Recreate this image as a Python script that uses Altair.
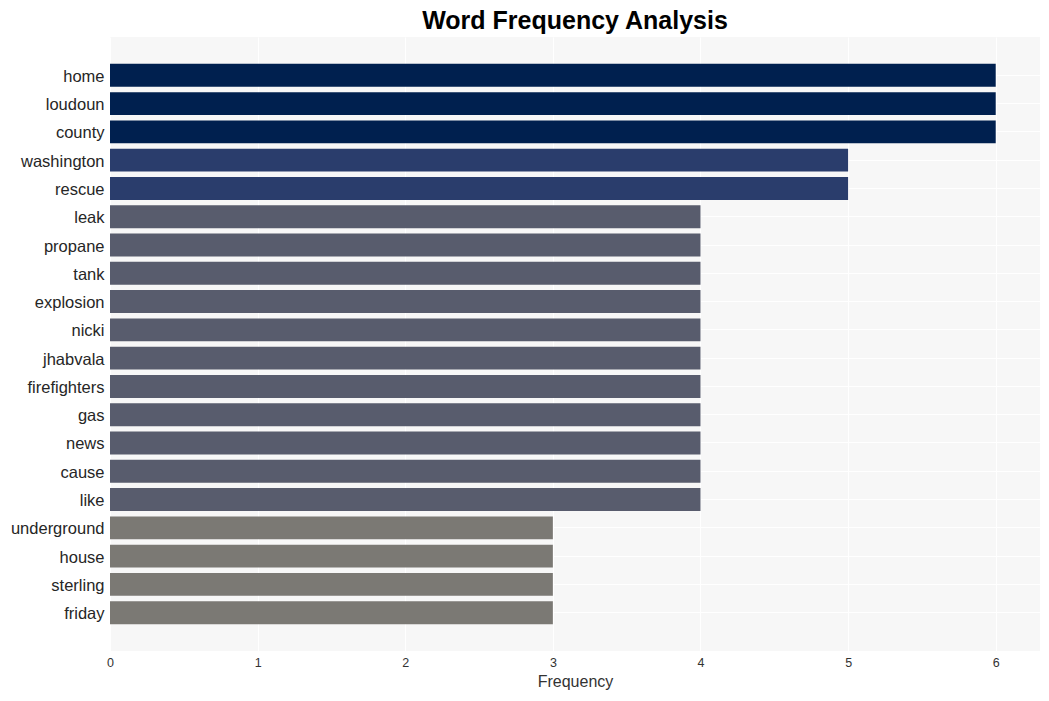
import altair as alt
import pandas as pd

words = ["home", "loudoun", "county", "washington", "rescue", "leak", "propane", "tank",
         "explosion", "nicki", "jhabvala", "firefighters", "gas", "news", "cause", "like",
         "underground", "house", "sterling", "friday"]
freqs = [6, 6, 6, 5, 5, 4, 4, 4, 4, 4, 4, 4, 4, 4, 4, 4, 3, 3, 3, 3]
color_levels = [3, 4, 5, 6]
color_values = ["#7b7974", "#585c6d", "#2a3d6c", "#00204f"]

df = pd.DataFrame({"word": words, "freq": freqs})

chart = alt.Chart(df).mark_bar().encode(
    x=alt.X("freq:Q", title="Frequency",
            scale=alt.Scale(domain=[0, 6.3], nice=False, zero=True),
            axis=alt.Axis(values=[0, 1, 2, 3, 4, 5, 6], format="d", grid=True,
                          gridColor="white", gridWidth=1, domain=False, ticks=False,
                          labelFlush=False,
                          labelFontSize=12.5, labelColor="#333333", labelPadding=5,
                          titleFontSize=16, titleFontWeight="normal", titleColor="#333333",
                          titlePadding=5, labelFont="Liberation Sans", titleFont="Liberation Sans")),
    y=alt.Y("word:N", sort=words, title=None,
            scale=alt.Scale(paddingInner=0.19, paddingOuter=0.95),
            axis=alt.Axis(grid=True, gridColor="white", gridWidth=1, domain=False, ticks=False,
                          labelFontSize=16.5, labelColor="#262626", labelPadding=6,
                          labelOffset=1.5,
                          labelFont="Liberation Sans")),
    color=alt.Color("freq:O", scale=alt.Scale(domain=color_levels, range=color_values), legend=None),
).properties(
    width=930,
    height=614,
    title=alt.TitleParams("Word Frequency Analysis", fontSize=25, fontWeight="bold",
                          font="Liberation Sans", color="black", anchor="middle", offset=3),
    autosize=alt.AutoSizeParams(type="none"),
    padding={"left": 102, "top": 29, "right": 1, "bottom": 43},
).configure_view(fill="#f7f7f7", stroke=None)

chart.save("out.html", embed_options={"renderer": "svg", "actions": False})
